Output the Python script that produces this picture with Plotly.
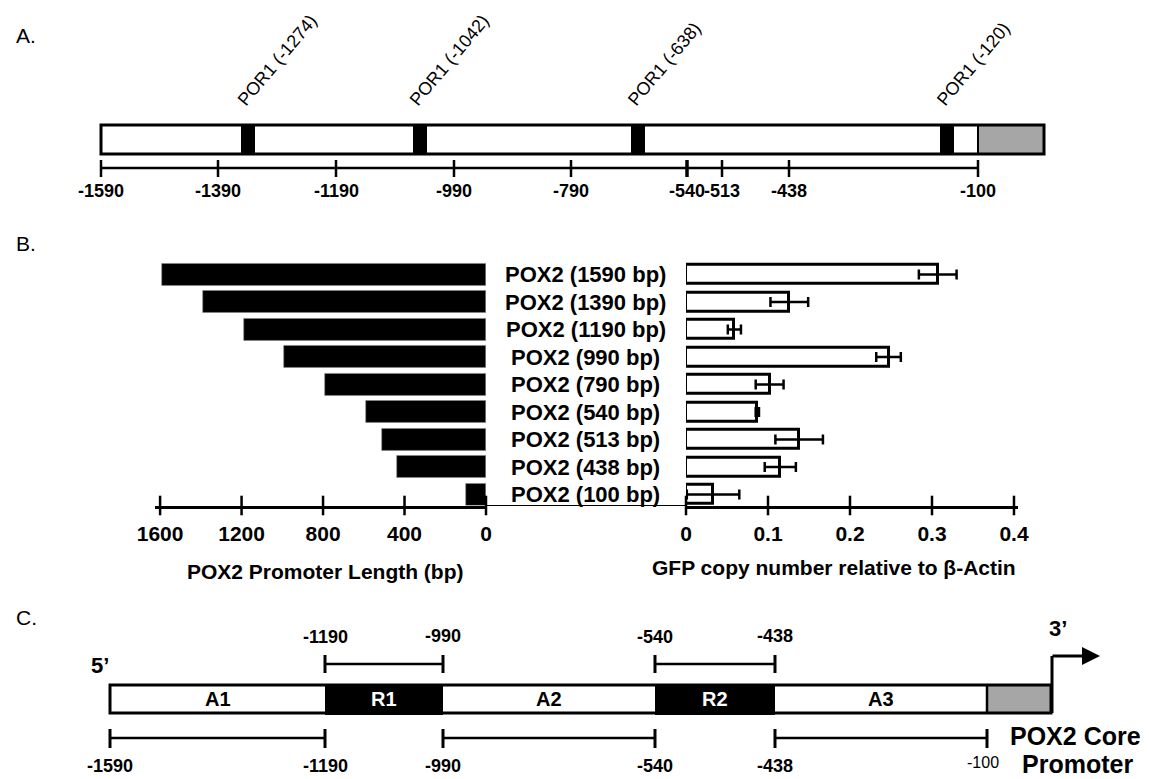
import plotly.graph_objects as go

# ---------------- DATA ----------------
# Panel A: promoter map
a_tick_labels = ["-1590", "-1390", "-1190", "-990", "-790", "-540", "-513", "-438", "-100"]
por1_labels = ["POR1 (-1274)", "POR1 (-1042)", "POR1 (-638)", "POR1 (-120)"]

# Panel B: deletion constructs
constructs = ["POX2 (1590 bp)", "POX2 (1390 bp)", "POX2 (1190 bp)", "POX2 (990 bp)",
              "POX2 (790 bp)", "POX2 (540 bp)", "POX2 (513 bp)", "POX2 (438 bp)", "POX2 (100 bp)"]
promoter_len = [1590, 1390, 1190, 990, 790, 590, 513, 438, 100]
gfp_copy = [0.307, 0.126, 0.059, 0.247, 0.102, 0.087, 0.138, 0.115, 0.033]
gfp_err = [0.023, 0.023, 0.008, 0.015, 0.017, 0.002, 0.029, 0.019, 0.032]
len_ticks = [0, 400, 800, 1200, 1600]
gfp_ticks = [0, 0.1, 0.2, 0.3, 0.4]
gfp_ticktext = ["0", "0.1", "0.2", "0.3", "0.4"]

# Panel C: regions
c_regions = ["A1", "R1", "A2", "R2", "A3"]
c_upper_labels = [("-1190", "-990"), ("-540", "-438")]
c_lower_labels = [("-1590", "-1190"), ("-990", "-540"), ("-438", "-100")]

# ---------------- LAYOUT CONSTANTS (screen pixel positions) ----------------
W, H = 1149, 779
OFF = 8  # default page margin around the figure
FONT = "Liberation Sans, Arial, sans-serif"
A_TICK_X = [101, 218, 336, 454, 571, 687, 722, 789, 978]
A_MARK_X = [241, 413, 631, 940]
A_BOX = (101, 1044, 125, 154)
A_GRAY_X0 = 978
A_AXIS_Y = 168

C_BOUNDS = [110, 325, 443, 655, 775, 987, 1051]
C_BOX_Y = (685, 713)
C_UP = [(325, 443), (655, 775)]
C_LOW = [(110, 325), (443, 655), (775, 987)]


def fx(X):
    return (X - OFF) / W


def fy(Y):
    return (H + OFF - Y) / H


fig = go.Figure()

# ---------------- PANEL B traces ----------------
n = len(constructs)
ypos = list(range(n - 1, -1, -1))

fig.add_trace(go.Bar(
    x=promoter_len, y=ypos, orientation="h", xaxis="x2", yaxis="y2",
    width=0.8, marker=dict(color="black", line=dict(color="#888", width=0.6)),
    showlegend=False, hoverinfo="skip"))

fig.add_trace(go.Bar(
    x=gfp_copy, y=ypos, orientation="h", xaxis="x3", yaxis="y3",
    width=0.7, marker=dict(color="white", line=dict(color="black", width=3)),
    error_x=dict(type="data", array=gfp_err, color="black", thickness=2.5, width=5),
    showlegend=False, hoverinfo="skip"))

# cross-shaped tick marks on both axes
fig.add_trace(go.Scatter(
    x=len_ticks, y=[-0.4] * len(len_ticks), xaxis="x2", yaxis="y2", mode="markers",
    marker=dict(symbol="line-ns", size=14, line=dict(color="black", width=2.5)),
    cliponaxis=False, showlegend=False, hoverinfo="skip"))
fig.add_trace(go.Scatter(
    x=gfp_ticks, y=[-0.4] * len(gfp_ticks), xaxis="x3", yaxis="y3", mode="markers",
    marker=dict(symbol="line-ns", size=14, line=dict(color="black", width=2.5)),
    cliponaxis=False, showlegend=False, hoverinfo="skip"))

shapes = []
ann = []


def line(x0, y0, x1, y1, w=2.5, color="black"):
    shapes.append(dict(type="line", xref="x", yref="y", x0=x0, y0=y0, x1=x1, y1=y1,
                       line=dict(color=color, width=w)))


def rect(x0, x1, y0, y1, fill, lw=0, lc="black"):
    shapes.append(dict(type="rect", xref="x", yref="y", x0=x0, x1=x1, y0=y0, y1=y1,
                       fillcolor=fill, line=dict(color=lc, width=lw)))


def text(x, y, t, size, bold=False, color="black", xa="center", ya="middle", angle=0):
    ann.append(dict(xref="x", yref="y", x=x, y=y, text=t, showarrow=False,
                    xanchor=xa, yanchor=ya, textangle=angle,
                    font=dict(family=FONT, size=size, color=color,
                              weight="bold" if bold else "normal")))


# ---------------- PANEL A ----------------
bx0, bx1, by0, by1 = A_BOX
rect(bx0, bx1, by0, by1, "white")
rect(A_GRAY_X0, bx1, by0, by1, "#a6a6a6")
for mx in A_MARK_X:
    rect(mx, mx + 14, by0 - 1, by1, "black")
line(A_GRAY_X0, by0, A_GRAY_X0, by1, w=2)
rect(bx0, bx1, by0, by1, "rgba(0,0,0,0)", lw=3)

line(A_TICK_X[0], A_AXIS_Y, A_TICK_X[-1], A_AXIS_Y, w=2.5)
for tx, lab in zip(A_TICK_X, a_tick_labels):
    line(tx, A_AXIS_Y - 8, tx, A_AXIS_Y + 9, w=3.5 if lab == "-540" else 2.5)
    text(tx, 191, lab, 18, bold=True)

for mx, lab in zip(A_MARK_X, por1_labels):
    text(mx - 10, 112, lab, 18, xa="left", ya="bottom", angle=-50)

text(14, 35, "A.", 21, xa="left")
text(14, 243, "B.", 21, xa="left")
text(14, 617, "C.", 21, xa="left")

# ---------------- PANEL B annotations ----------------
for yy, lab in zip(ypos, constructs):
    ann.append(dict(xref="x", yref="y2", x=585.5, y=yy, text=lab, showarrow=False,
                    xanchor="center", yanchor="middle",
                    font=dict(family=FONT, size=22, color="black", weight="bold")))
line(486, 505.5, 686, 505.5, w=1)
text(325, 571, "POX2 Promoter Length (bp)", 21, bold=True)
text(834, 567, "GFP copy number relative to β-Actin", 21, bold=True)

# ---------------- PANEL C ----------------
cy0, cy1 = C_BOX_Y
fills = ["white", "black", "white", "black", "white", "#a6a6a6"]
for i, f in enumerate(fills):
    if f == "black":
        rect(C_BOUNDS[i], C_BOUNDS[i + 1], cy0 - 1, cy1 + 2, f)
    else:
        rect(C_BOUNDS[i], C_BOUNDS[i + 1], cy0, cy1, f)
rect(C_BOUNDS[0], C_BOUNDS[-1], cy0, cy1, "rgba(0,0,0,0)", lw=3)
line(C_BOUNDS[5], cy0, C_BOUNDS[5], cy1, w=2.5)
for i, lab in enumerate(c_regions):
    cx = (C_BOUNDS[i] + C_BOUNDS[i + 1]) / 2
    text(cx, 699, lab, 20, bold=True, color="white" if lab.startswith("R") else "black")

for (x0, x1), (l0, l1) in zip(C_UP, c_upper_labels):
    line(x0, 664, x1, 664, w=2.5)
    line(x0, 655, x0, 673, w=3)
    line(x1, 655, x1, 673, w=3)
    text(x0, 637, l0, 18, bold=True)
    text(x1, 636, l1, 18, bold=True)

for (x0, x1), (l0, l1) in zip(C_LOW, c_lower_labels):
    line(x0, 738, x1, 738, w=2.5)
    line(x0, 729, x0, 748, w=3)
    line(x1, 729, x1, 748, w=3)
    text(x0, 766, l0, 18, bold=True)
    if l1 == "-100":
        text(x1 - 4, 762, l1, 16)
    else:
        text(x1, 766, l1, 18, bold=True)

text(100, 665, "5’", 22, bold=True)
text(1058, 628, "3’", 22, bold=True)
line(1052, cy1, 1052, 656, w=3)
ann.append(dict(xref="x", yref="y", axref="x", ayref="y", x=1100, y=656, ax=1051, ay=656,
                text="", showarrow=True, arrowhead=2, arrowsize=1.2, arrowwidth=3,
                arrowcolor="black"))
text(1075, 736, "POX2 Core", 25, bold=True)
text(1077, 764, "Promoter", 25, bold=True)

# ---------------- LAYOUT ----------------
yb = fy(505.5)
yt = fy(260.75)
tickfont = dict(family=FONT, size=21, color="black", weight="bold")
common_x = dict(showline=True, linecolor="black", linewidth=2.5, showgrid=False,
                zeroline=False, ticks="outside", ticklen=8, tickcolor="rgba(0,0,0,0)",
                tickfont=tickfont, automargin=False, fixedrange=True)
fig.update_layout(
    template="none",
    width=W, height=H, margin=dict(l=0, r=0, t=0, b=0, pad=0, autoexpand=False),
    paper_bgcolor="white", plot_bgcolor="rgba(0,0,0,0)",
    showlegend=False, bargap=0,
    xaxis=dict(domain=[0, 1], range=[OFF, W + OFF], visible=False, fixedrange=True,
               automargin=False),
    yaxis=dict(domain=[0, 1], range=[H + OFF, OFF], visible=False, fixedrange=True,
               automargin=False),
    xaxis2=dict(domain=[fx(155), fx(486)], range=[1625, 0], anchor="y2",
                tickvals=len_ticks, ticktext=[str(v) for v in len_ticks], **common_x),
    yaxis2=dict(domain=[yb, yt], range=[-0.4, 8.5], visible=False, automargin=False,
                fixedrange=True),
    xaxis3=dict(domain=[fx(686), fx(1018)], range=[0, 0.4049], anchor="y3",
                tickvals=gfp_ticks, ticktext=gfp_ticktext, **common_x),
    yaxis3=dict(domain=[yb, yt], range=[-0.4, 8.5], visible=False, automargin=False,
                fixedrange=True),
    shapes=shapes, annotations=ann,
)

fig.write_html("out.html")
